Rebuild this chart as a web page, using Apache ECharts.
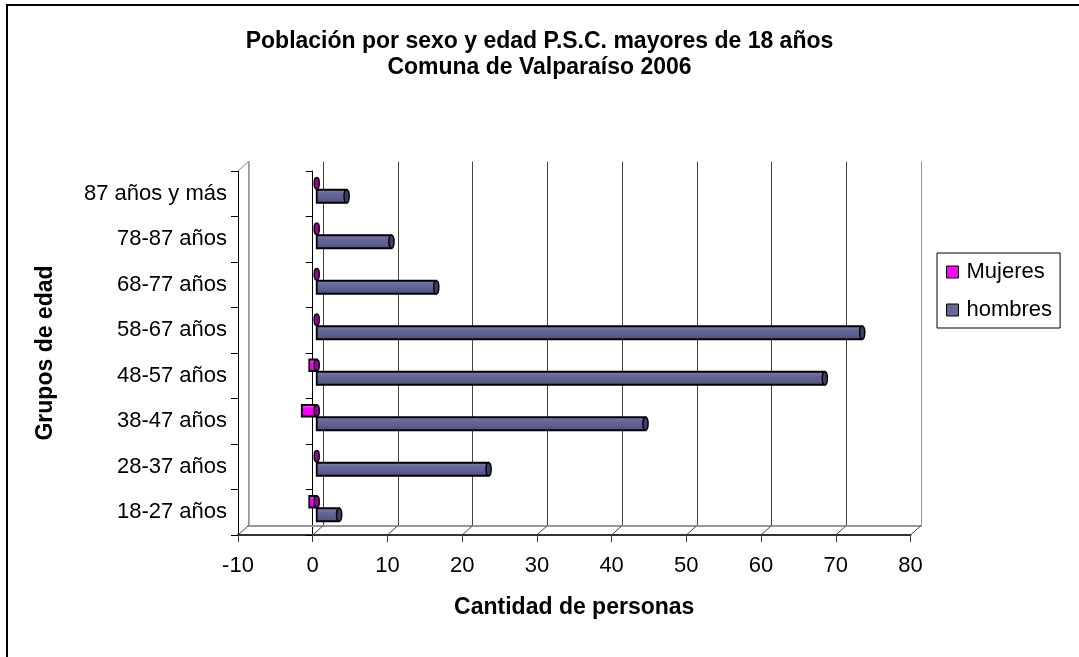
<!DOCTYPE html>
<html>
<head>
<meta charset="utf-8">
<script src="https://cdn.jsdelivr.net/npm/echarts@6/dist/echarts.min.js"></script>
<style>
html,body{margin:0;padding:0;background:#fff;}
#chart{width:1079px;height:657px;}
</style>
</head>
<body>
<div id="chart"></div>
<script>
var categories = ['18-27 años','28-37 años','38-47 años','48-57 años','58-67 años','68-77 años','78-87 años','87 años y más'];
var mujeres = [-1, 0, -2, -1, 0, 0, 0, 0];
var hombres = [3, 23, 44, 68, 73, 16, 10, 4];
var xTicks = [-10, 0, 10, 20, 30, 40, 50, 60, 70, 80];

var FONT = 'Liberation Sans, Arial, sans-serif';

function barRender(offset, h, fillTop, fillMid, fillBot, capFill) {
  return function (params, api) {
    var v = api.value(0), c = api.value(1);
    var s = api.coord([0, c]), e = api.coord([v, c]);
    var cy = s[1] + offset;
    var x0 = Math.min(s[0], e[0]), w = Math.abs(e[0] - s[0]);
    var capX = Math.max(s[0], e[0]);
    var children = [];
    if (w > 0) {
      children.push({
        type: 'rect',
        shape: { x: x0, y: cy - h / 2, width: w, height: h },
        style: {
          fill: new echarts.graphic.LinearGradient(0, 0, 0, 1, [
            { offset: 0, color: fillTop }, { offset: 0.35, color: fillMid }, { offset: 1, color: fillBot }
          ]),
          stroke: '#000', lineWidth: 1.8
        }
      });
    }
    children.push({
      type: 'ellipse',
      shape: { cx: capX, cy: cy, rx: 2.6, ry: h / 2 },
      style: { fill: capFill, stroke: '#000', lineWidth: 1.4 }
    });
    return { type: 'group', children: children };
  };
}

function floorRender(params, api) {
  var v = api.value(0);
  var band = api.size([0, 1])[1];
  var p = api.coord([v, 0]);
  var by = p[1] + band / 2;
  var children = [{
    type: 'line',
    shape: { x1: p[0], y1: by, x2: p[0] + 10.5, y2: by - 9.5 },
    style: { stroke: '#444', lineWidth: 1 }
  }];
  if (params.dataIndex === 0) {
    var t = api.coord([v, categories.length - 1]);
    var ty = t[1] - band / 2;
    children.push({
      type: 'line',
      shape: { x1: p[0], y1: ty, x2: p[0] + 10.5, y2: ty - 9.5 },
      style: { stroke: '#888', lineWidth: 1 }
    });
  }
  return { type: 'group', children: children };
}

var gridLineColors = ['#999'];
for (var i = 1; i < xTicks.length - 1; i++) gridLineColors.push('#444');
gridLineColors.push('#999');

var chart = echarts.init(document.getElementById('chart'));
chart.setOption({
  animation: false,
  backgroundColor: '#fff',
  graphic: [{
    type: 'rect', z: -1,
    shape: { x: 7, y: 5, width: 1200, height: 800 },
    style: { fill: 'none', stroke: '#000', lineWidth: 2 }
  }],
  title: {
    text: 'Población por sexo y edad P.S.C. mayores de 18 años\nComuna de Valparaíso 2006',
    left: 'center', top: 24,
    textStyle: { fontFamily: FONT, fontSize: 23, fontWeight: 'bold', color: '#000', lineHeight: 26 }
  },
  legend: {
    orient: 'vertical',
    left: 937, top: 253,
    padding: [8, 8, 7, 9],
    itemGap: 16,
    itemWidth: 12, itemHeight: 12,
    borderColor: '#000', borderWidth: 1,
    icon: 'rect',
    data: [
      { name: 'Mujeres', itemStyle: { color: '#ff00ff', borderColor: '#000', borderWidth: 1 } },
      { name: 'hombres', itemStyle: { color: '#666699', borderColor: '#000', borderWidth: 1 } }
    ],
    textStyle: { fontFamily: FONT, fontSize: 22, color: '#000', padding: [0, 0, 0, 3] }
  },
  grid: [
    { left: 238, right: 168.5, top: 171, bottom: 122, containLabel: false },
    { left: 248.5, right: 158, top: 161.5, bottom: 131.5, containLabel: false },
    { left: 242, right: 164.5, top: 167, bottom: 126, containLabel: false }
  ],
  xAxis: [
    {
      gridIndex: 0, type: 'value', min: -10, max: 80, interval: 10,
      name: 'Cantidad de personas', nameLocation: 'middle', nameGap: 61,
      nameTextStyle: { fontFamily: FONT, fontSize: 23, fontWeight: 'bold', color: '#000' },
      axisLine: { show: true, onZero: false, lineStyle: { color: '#333', width: 2 } },
      axisTick: { show: true, length: 7, lineStyle: { color: '#333', width: 1 } },
      axisLabel: { fontFamily: FONT, fontSize: 22, color: '#000', margin: 20 },
      splitLine: { show: false }
    },
    {
      gridIndex: 1, type: 'value', min: -10, max: 80, interval: 10,
      axisLine: { show: true, onZero: false, lineStyle: { color: '#999', width: 2 } },
      axisTick: { show: false }, axisLabel: { show: false },
      splitLine: { show: true, lineStyle: { color: gridLineColors, width: 1 } }
    },
    {
      gridIndex: 2, type: 'value', min: -10, max: 80, interval: 10,
      axisLine: { show: false }, axisTick: { show: false }, axisLabel: { show: false },
      splitLine: { show: false }
    }
  ],
  yAxis: [
    {
      gridIndex: 0, type: 'category', data: categories, position: 'left',
      name: 'Grupos de edad', nameLocation: 'middle', nameRotate: 90, nameGap: 181,
      nameTextStyle: { fontFamily: FONT, fontSize: 23, fontWeight: 'bold', color: '#000' },
      axisLine: { show: true, onZero: false, lineStyle: { color: '#000', width: 1 } },
      axisTick: { show: true, length: 7, interval: 0, lineStyle: { color: '#000' } },
      axisLabel: { fontFamily: FONT, fontSize: 22, color: '#000', margin: 11 },
      splitLine: { show: false }
    },
    {
      gridIndex: 0, type: 'category', data: categories, position: 'left',
      axisLine: { show: true, onZero: true, lineStyle: { color: '#000', width: 1 } },
      axisTick: { show: true, length: 7, interval: 0, lineStyle: { color: '#000' } },
      axisLabel: { show: false },
      splitLine: { show: false }
    },
    {
      gridIndex: 1, type: 'category', data: categories, position: 'left',
      axisLine: { show: true, onZero: false, lineStyle: { color: '#999', width: 1.5 } },
      axisTick: { show: false }, axisLabel: { show: false }, splitLine: { show: false }
    },
    {
      gridIndex: 2, type: 'category', data: categories,
      axisLine: { show: false, onZero: false }, axisTick: { show: false }, axisLabel: { show: false }, splitLine: { show: false }
    }
  ],
  series: [
    {
      name: 'floor', type: 'custom', xAxisIndex: 0, yAxisIndex: 0,
      data: xTicks.map(function (v) { return [v, 0]; }),
      encode: { x: 0, y: 1 },
      renderItem: floorRender, silent: true, z: 1
    },
    {
      name: 'Mujeres', type: 'custom', xAxisIndex: 2, yAxisIndex: 3,
      itemStyle: { color: '#ff00ff' },
      data: mujeres.map(function (v, i) { return [v, i]; }),
      encode: { x: 0, y: 1 },
      renderItem: barRender(-6.5, 11.5, '#ff66ff', '#ff00ff', '#e000e0', '#990099'),
      z: 5
    },
    {
      name: 'hombres', type: 'custom', xAxisIndex: 2, yAxisIndex: 3,
      itemStyle: { color: '#666699' },
      data: hombres.map(function (v, i) { return [v, i]; }),
      encode: { x: 0, y: 1 },
      renderItem: barRender(6.5, 13, '#8282b2', '#66669a', '#52527f', '#3c3c66'),
      z: 5
    }
  ]
});
</script>
</body>
</html>
